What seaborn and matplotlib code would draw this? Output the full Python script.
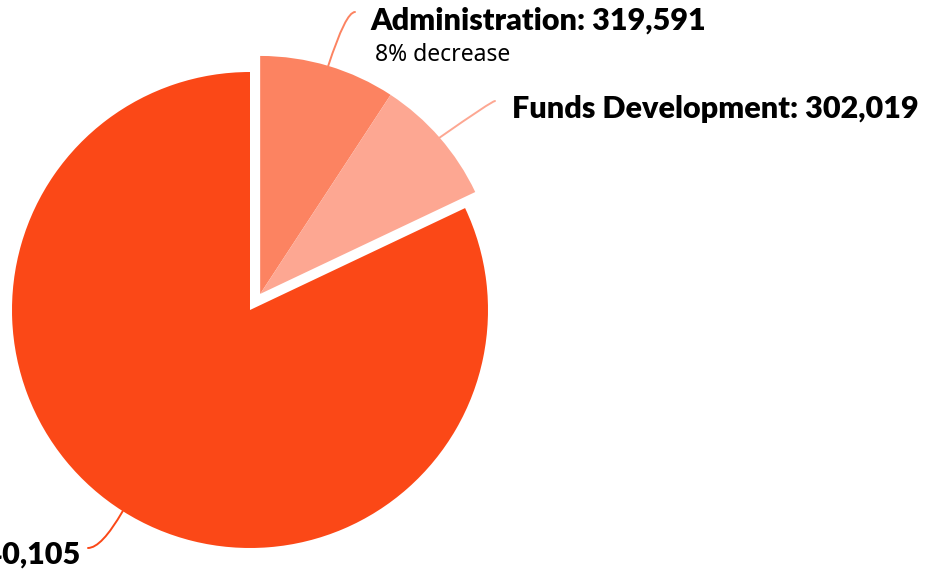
import numpy as np
import matplotlib.pyplot as plt
import seaborn as sns

sns.set_style("white")

# data
categories = ["Administration", "Funds Development", "Programs"]
values = [319591, 302019, 2840105]
notes = ["8% decrease", None, None]
colors = ["#FC8361", "#FDA792", "#FB4817"]

W, H = 934, 571
fig = plt.figure(figsize=(W / 100, H / 100), dpi=100)
ax = fig.add_axes([0, 0, 1, 1])

center = np.array([250.0, H - 310.0])
radius = 238

wedges, _ = ax.pie(values, colors=colors, startangle=90, counterclock=False,
                   center=tuple(center), radius=radius, frame=True,
                   wedgeprops=dict(linewidth=0))
ax.set_xlim(0, W)
ax.set_ylim(0, H)
ax.set_aspect("equal")
ax.axis("off")

# pull the two small slices out together along their shared bisector
t1 = min(w.theta1 for w in wedges[:2])
t2 = max(w.theta2 for w in wedges[:2])
mid = np.deg2rad((t1 + t2) / 2)
offset = 19 * np.array([np.cos(mid), np.sin(mid)])
for w in wedges[:2]:
    w.set_center(tuple(center + offset))

# label placement (pixel coords, y up)
label_pos = [(370, H - 21), (512, H - 109), (80, H - 555)]
line_end = [(355, H - 12), (495, H - 101), (88, H - 548)]
angB = [72, 35, 60]
ha = ["left", "left", "right"]

for i, w in enumerate(wedges):
    a = np.deg2rad((w.theta1 + w.theta2) / 2)
    c = np.array(w.center)
    edge = c + radius * np.array([np.cos(a), np.sin(a)])
    ax.annotate("", xy=tuple(edge), xytext=line_end[i],
                arrowprops=dict(arrowstyle="-", color=colors[i], lw=1.4,
                                shrinkA=0, shrinkB=0,
                                connectionstyle=f"angle3,angleA=0,angleB={angB[i]}"))
    ax.text(label_pos[i][0], label_pos[i][1], f"{categories[i]}: {values[i]:,}",
            ha=ha[i], va="center", fontsize=22, fontweight="heavy",
            family="Lato", color="black")
    if notes[i]:
        ax.text(label_pos[i][0] + 5, label_pos[i][1] - 34, notes[i],
                ha="left", va="center", fontsize=16.5, family="Noto Sans",
                color="black")

fig.savefig("out.png", dpi=100)
